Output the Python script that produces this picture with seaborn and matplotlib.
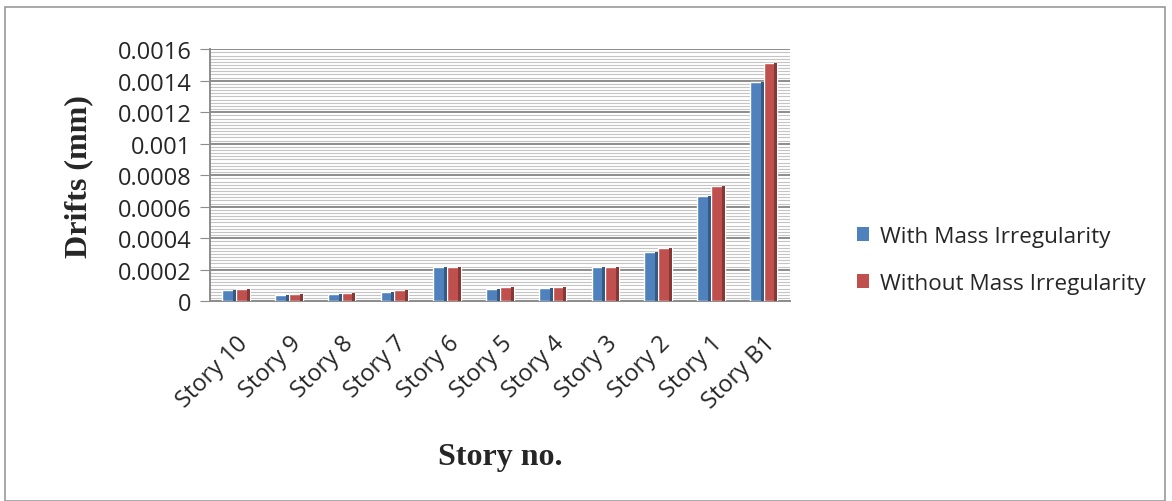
import matplotlib
matplotlib.use("Agg")
import matplotlib.pyplot as plt
import seaborn as sns
import pandas as pd
import numpy as np
from matplotlib.patches import Rectangle
from matplotlib.ticker import MultipleLocator

stories = ["Story 10", "Story 9", "Story 8", "Story 7", "Story 6", "Story 5",
           "Story 4", "Story 3", "Story 2", "Story 1", "Story B1"]
with_mass = [0.00007, 0.00004, 0.000045, 0.00006, 0.00022, 0.00008,
             0.000085, 0.00022, 0.00031, 0.00067, 0.00139]
without_mass = [0.00008, 0.000045, 0.00005, 0.00007, 0.00022, 0.00009,
                0.00009, 0.00022, 0.00034, 0.00073, 0.00151]
series_names = ["With Mass Irregularity", "Without Mass Irregularity"]
colors = ["#4F81BD", "#C0504D"]
yticks = [0, 0.0002, 0.0004, 0.0006, 0.0008, 0.001, 0.0012, 0.0014, 0.0016]
ytick_labels = ["0", "0.0002", "0.0004", "0.0006", "0.0008", "0.001", "0.0012", "0.0014", "0.0016"]

df = pd.DataFrame({
    "Story": stories * 2,
    "Drift": with_mass + without_mass,
    "Series": [series_names[0]] * len(stories) + [series_names[1]] * len(stories),
})

sns.set_style("white")
plt.rcParams["font.family"] = ["Open Sans", "DejaVu Sans"]

fig = plt.figure(figsize=(11.72, 5.02), dpi=100)
ax = fig.add_axes([0.179, 0.398, 0.495, 0.502])

sns.barplot(data=df, x="Story", y="Drift", hue="Series", palette=colors,
            width=0.52, ax=ax, legend=False, saturation=1, zorder=3)

# darker right side for pseudo-3D look
for p in list(ax.patches):
    x0 = p.get_x(); w = p.get_width(); h = p.get_height()
    fc = np.array(matplotlib.colors.to_rgb(p.get_facecolor()))
    ax.add_patch(Rectangle((x0 + w * 0.78, 0), w * 0.22, h, facecolor=fc * 0.7,
                           edgecolor="none", zorder=4))

ax.set_ylim(0, 0.0016)
ax.set_xlim(-0.5, 10.5)
ax.set_yticks(yticks)
ax.set_yticklabels(ytick_labels, fontsize=17)
ax.yaxis.set_minor_locator(MultipleLocator(0.00002))
ax.grid(True, axis="y", which="major", color="#8c8c8c", linewidth=1.4, zorder=0)
ax.grid(True, axis="y", which="minor", color="#c4c4c4", linewidth=0.8, zorder=0)
ax.set_axisbelow(True)
ax.tick_params(axis="y", which="major", left=True, length=7, color="#8c8c8c", pad=6)
ax.tick_params(axis="y", which="minor", left=False)
ax.tick_params(axis="x", bottom=False, pad=18)
ax.set_xticks(range(len(stories)))
ax.set_xticklabels(stories, rotation=45, ha="right", rotation_mode="anchor", fontsize=17)
for s in ["top", "right"]:
    ax.spines[s].set_visible(False)
ax.spines["left"].set_color("#8c8c8c")
ax.spines["bottom"].set_color("#8c8c8c")
ax.spines["left"].set_linewidth(1.4)
ax.spines["bottom"].set_linewidth(1.4)

ax.set_xlabel("")
ax.set_ylabel("")
fig.text(0.067, 0.649, "Drifts (mm)", rotation=90, ha="center", va="center",
         fontsize=23, fontweight="bold", family=["Liberation Serif"])
fig.text(0.4266, 0.088, "Story no.", ha="center", va="center",
         fontsize=23, fontweight="bold", family=["Liberation Serif"])

handles = [Rectangle((0, 0), 1, 1, facecolor=c, edgecolor="none") for c in colors]
fig.legend(handles, series_names, loc="center left", bbox_to_anchor=(0.714, 0.48),
           frameon=False, fontsize=16.2, handlelength=0.55, handleheight=0.55,
           handletextpad=0.45, labelspacing=1.15)

fig.add_artist(Rectangle((0.004, 0.0), 0.99, 0.985, transform=fig.transFigure,
                         fill=False, edgecolor="#9a9a9a", linewidth=1.2))

fig.savefig("out.png", dpi=100)
